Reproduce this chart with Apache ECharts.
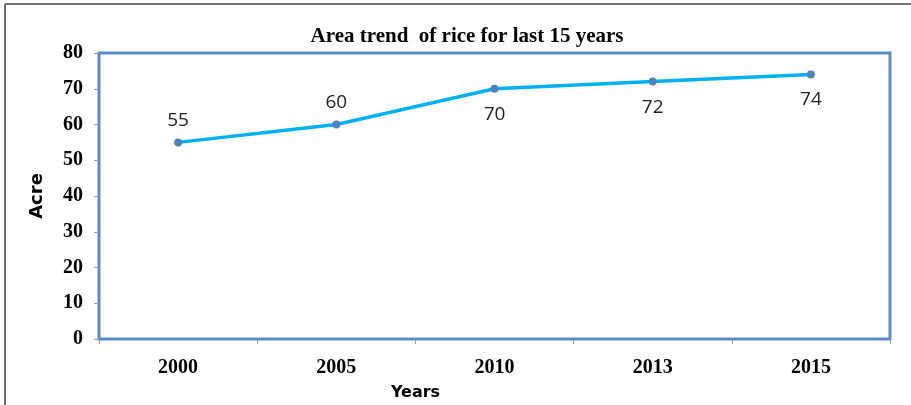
<!DOCTYPE html>
<html>
<head>
<meta charset="utf-8" />
<title>Area trend of rice</title>
<style>
  html, body { margin: 0; padding: 0; background: #fff; }
  #chart { width: 911px; height: 405px; }
</style>
</head>
<body>
<div id="chart"></div>
<script src="https://cdn.jsdelivr.net/npm/echarts@6/dist/echarts.min.js"></script>
<script>
// data
var years = ['2000', '2005', '2010', '2013', '2015'];
var areaAcre = [55, 60, 70, 72, 74];
var yTicks = { min: 0, max: 80, step: 10 };

var chart = echarts.init(document.getElementById('chart'));

// first two labels sit above the point, the rest below
var seriesData = areaAcre.map(function (v, i) {
  return {
    value: v,
    label: i < 2 ? { position: 'top', distance: 8 } : { position: 'bottom', distance: 12 }
  };
});

var option = {
  animation: false,
  title: {
    text: 'Area trend  of rice for last 15 years',
    left: 462,
    top: 21,
    textAlign: 'center',
    textStyle: { fontFamily: 'Liberation Serif', fontWeight: 'bold', fontSize: 21, color: '#000' }
  },
  graphic: [
    { type: 'line', shape: { x1: 5, y1: 4, x2: 911, y2: 4 }, style: { stroke: '#6e6e6e', lineWidth: 2 } },
    { type: 'line', shape: { x1: 5, y1: 4, x2: 5, y2: 405 }, style: { stroke: '#6e6e6e', lineWidth: 2 } }
  ],
  grid: {
    left: 99, right: 21, top: 53, bottom: 66,
    outerBoundsMode: 'none',
    containLabel: false,
    show: true,
    borderColor: '#5b8cc8',
    borderWidth: 3,
    backgroundColor: '#fff'
  },
  xAxis: {
    type: 'category',
    data: years,
    boundaryGap: true,
    name: 'Years',
    nameLocation: 'middle',
    nameGap: 46,
    nameTextStyle: {
      fontFamily: 'DejaVu Sans', fontWeight: 'bold', fontSize: 16, color: '#000',
      padding: [0, 158, 0, 0]
    },
    axisLine: { show: false },
    axisTick: { show: true, length: 5, lineStyle: { color: '#999' } },
    axisLabel: {
      margin: 19,
      fontFamily: 'Liberation Serif', fontWeight: 'bold', fontSize: 20, color: '#000'
    },
    splitLine: { show: false }
  },
  yAxis: {
    type: 'value',
    min: yTicks.min,
    max: yTicks.max,
    interval: yTicks.step,
    name: 'Acre',
    nameLocation: 'middle',
    nameGap: 53,
    nameTextStyle: { fontFamily: 'DejaVu Sans', fontWeight: 'bold', fontSize: 18, color: '#000' },
    axisLine: { show: false },
    axisTick: { show: true, length: 5, lineStyle: { color: '#999' } },
    axisLabel: {
      margin: 16,
      fontFamily: 'Liberation Serif', fontWeight: 'bold', fontSize: 20, color: '#000'
    },
    splitLine: { show: false }
  },
  series: [{
    type: 'line',
    data: seriesData,
    symbol: 'circle',
    symbolSize: 8,
    itemStyle: { color: '#4f81bd' },
    lineStyle: { color: '#00b0f0', width: 3.5 },
    label: {
      show: true,
      fontFamily: 'Open Sans',
      fontSize: 19,
      color: '#222'
    }
  }]
};

chart.setOption(option);
</script>
</body>
</html>
